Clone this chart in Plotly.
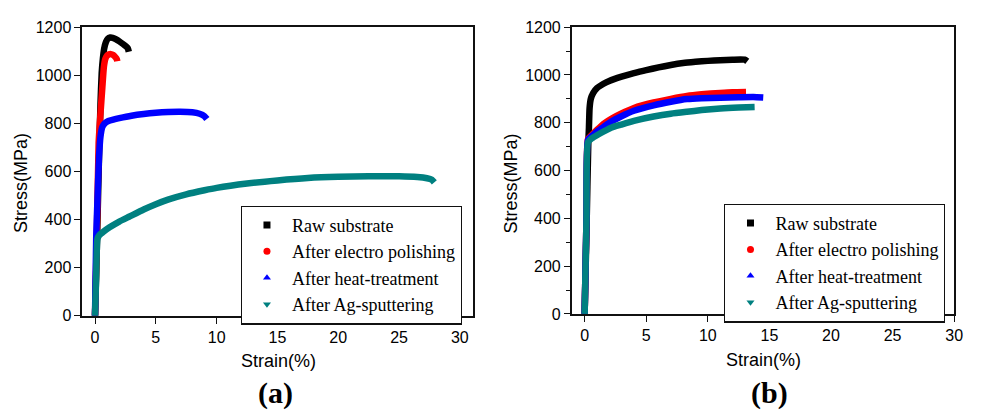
import plotly.graph_objects as go

# ---------- data: panel (a) ----------
a_raw_x = [0, 0.15, 0.3, 0.45, 0.55, 0.65, 0.75, 0.9, 1.05, 1.25, 1.45, 1.7, 2.0, 2.3, 2.55, 2.7, 2.78]
a_raw_y = [0, 280, 600, 880, 1010, 1070, 1110, 1138, 1152, 1157, 1156, 1150, 1141, 1130, 1120, 1112, 1098]
a_ep_x = [0, 0.15, 0.3, 0.45, 0.6, 0.73, 0.85, 1.0, 1.15, 1.3, 1.5, 1.68, 1.8, 1.83]
a_ep_y = [0, 330, 720, 840, 947, 1035, 1068, 1082, 1087, 1088, 1084, 1075, 1066, 1058]
a_ht_x = [0, 0.1, 0.2, 0.33, 0.45, 0.6, 0.8, 1.1, 1.5, 2.0, 3.0, 4.0, 5.0, 6.0, 7.0, 8.0, 8.6, 9.0, 9.2]
a_ht_y = [0, 330, 480, 660, 745, 785, 800, 810, 816, 822, 832, 839, 844, 847, 848, 846, 840, 830, 818]
a_ag_x = [0, 0.1, 0.2, 0.35, 0.7, 1.2, 2.0, 2.8, 4.0, 5.0, 6.0, 7.5, 9.0, 10.0, 12.5, 15.0, 17.5, 20.0, 22.5, 25.0, 26.5, 27.3, 27.7, 27.9]
a_ag_y = [0, 170, 320, 335, 350, 368, 392, 412, 442, 464, 483, 505, 522, 532, 550, 563, 573, 578, 580, 580, 577, 572, 566, 555]

# ---------- data: panel (b) ----------
b_raw_x = [0, 0.15, 0.3, 0.35, 0.4, 0.5, 0.7, 1.0, 1.5, 2.0, 3.0, 4.0, 5.0, 6.0, 7.0, 8.0, 9.0, 10.0, 11.0, 12.0, 13.0, 13.2]
b_raw_y = [0, 350, 720, 780, 860, 900, 925, 945, 962, 975, 993, 1008, 1020, 1032, 1042, 1050, 1055, 1059, 1062, 1064, 1064, 1057]
b_ep_x = [0, 0.15, 0.27, 0.6, 1.0, 1.6, 2.2, 2.95, 4.0, 5.6, 7.0, 8.3, 9.5, 11.0, 12.0, 13.1]
b_ep_y = [0, 400, 731, 750, 770, 798, 818, 838, 862, 885, 900, 912, 919, 925, 928, 929]
b_ht_x = [0, 0.15, 0.27, 0.6, 1.0, 1.6, 2.2, 2.95, 4.0, 5.6, 7.0, 8.3, 9.5, 11.0, 12.5, 13.7, 14.5]
b_ht_y = [0, 400, 728, 745, 763, 785, 806, 826, 850, 873, 888, 899, 903, 905, 907, 908, 906]
b_ag_x = [0, 0.15, 0.27, 0.6, 1.0, 1.6, 2.2, 2.95, 4.0, 5.6, 7.0, 8.3, 9.5, 11.0, 12.5, 13.8]
b_ag_y = [0, 395, 718, 735, 748, 765, 780, 792, 808, 826, 838, 846, 853, 860, 864, 866]

names = ["Raw substrate", "After electro polishing", "After heat-treatment", "After Ag-sputtering"]
colors = ["#000000", "#ff0000", "#0000ff", "#008080"]
symbols = ["square", "circle", "triangle-up", "triangle-down"]

a_series = [(a_raw_x, a_raw_y), (a_ep_x, a_ep_y), (a_ht_x, a_ht_y), (a_ag_x, a_ag_y)]
b_series = [(b_raw_x, b_raw_y), (b_ep_x, b_ep_y), (b_ht_x, b_ht_y), (b_ag_x, b_ag_y)]

fig = go.Figure()
for series, xa, ya in [(a_series, "x", "y"), (b_series, "x2", "y2")]:
    for i in range(4):
        x, y = series[i]
        fig.add_trace(go.Scatter(x=x, y=y, mode="lines",
                                 line=dict(color=colors[i], width=6.5, shape="spline", smoothing=0.5),
                                 showlegend=False, xaxis=xa, yaxis=ya, hoverinfo="skip"))

# legend-only entries
for leg, xa, ya in [("legend", "x", "y"), ("legend2", "x2", "y2")]:
    for i in range(4):
        fig.add_trace(go.Scatter(x=[None], y=[None], mode="markers", name=names[i],
                                 marker=dict(color=colors[i], symbol=symbols[i], size=7),
                                 legend=leg, xaxis=xa, yaxis=ya))

W, H = 981, 414
tickfont = dict(family="Liberation Sans, Arial", size=16, color="black")
axis_common = dict(showgrid=False, zeroline=False, showline=True, mirror=True,
                   linecolor="#111", linewidth=1.5, ticks="outside", ticklen=6,
                   tickcolor="#111", tickwidth=1.3, tickfont=tickfont)

leg_font = dict(family="Liberation Serif, Times New Roman", size=18, color="black")
fig.update_layout(
    width=W, height=H, margin=dict(l=0, r=0, t=0, b=0),
    paper_bgcolor="white", plot_bgcolor="white",
    showlegend=True,
    xaxis=dict(domain=[83/W, 477/W], range=[-1.05, 31.05], tickvals=[0, 5, 10, 15, 20, 25, 30],
               anchor="y", **axis_common),
    yaxis=dict(domain=[(H-321)/H, (H-20)/H], range=[0, 1200], tickvals=[0, 200, 400, 600, 800, 1000, 1200],
               anchor="x", **axis_common),
    xaxis2=dict(domain=[577/W, 963/W], range=[-1.05, 30], tickvals=[0, 5, 10, 15, 20, 25, 30],
                anchor="y2", **axis_common),
    yaxis2=dict(domain=[(H-319)/H, (H-20)/H], range=[0, 1200], tickvals=[0, 200, 400, 600, 800, 1000, 1200],
                anchor="x2", minor=dict(dtick=100, ticks="outside", ticklen=4, tickcolor="#111"),
                **axis_common),
    legend=dict(x=243/W, y=(H-206)/H, xanchor="left", yanchor="top",
                bordercolor="#111", borderwidth=1.2, bgcolor="white",
                font=leg_font, itemwidth=40, tracegroupgap=0),
    legend2=dict(x=731/W, y=(H-204)/H, xanchor="left", yanchor="top",
                 bordercolor="#111", borderwidth=1.2, bgcolor="white",
                 font=leg_font, itemwidth=40, tracegroupgap=0),
)

title_font = dict(family="Liberation Sans, Arial", size=18, color="black")
label_font = dict(family="Liberation Serif, Times New Roman", size=30, color="black")
ann = [
    dict(text="Stress(MPa)", x=21.7/W, y=(H-183)/H, textangle=-90, font=title_font),
    dict(text="Stress(MPa)", x=516.7/W, y=(H-183)/H, textangle=-90, font=title_font),
    dict(text="Strain(%)", x=280.7/W, y=(H-368)/H, font=title_font),
    dict(text="Strain(%)", x=770.7/W, y=(H-367)/H, font=title_font),
    dict(text="<b>(a)</b>", x=278/W, y=(H-402)/H, font=label_font),
    dict(text="<b>(b)</b>", x=777/W, y=(H-402)/H, font=label_font),
]
for a in ann:
    fig.add_annotation(xref="paper", yref="paper", xanchor="center", yanchor="middle",
                       showarrow=False, **a)

fig.write_html("out.html")
